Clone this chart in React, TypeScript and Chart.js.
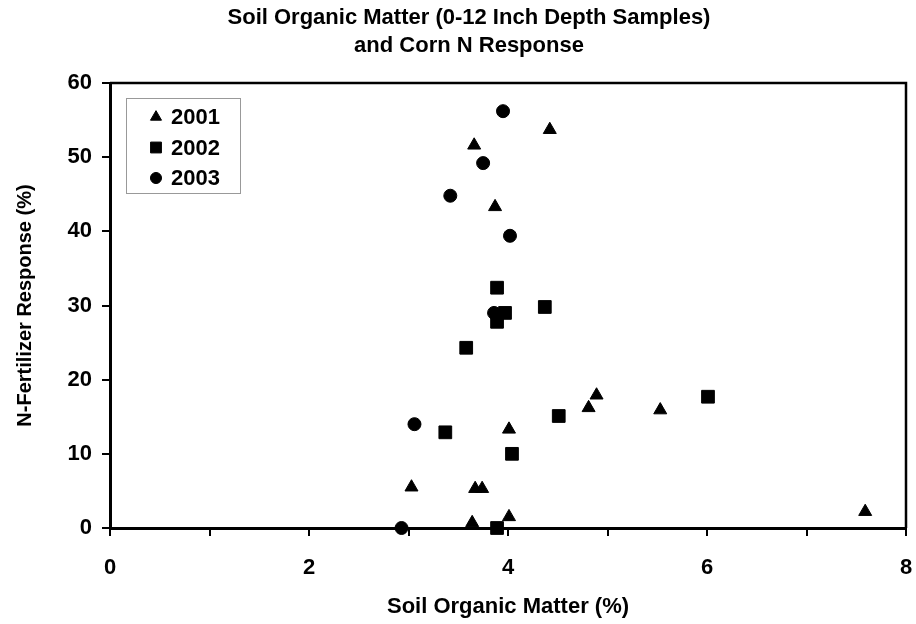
import React, { useEffect, useRef } from "react";
import { Chart, registerables } from "chart.js";
import { drawPoint } from "chart.js/helpers";

Chart.register(...registerables);

const titleLines = ["Soil Organic Matter (0-12 Inch Depth Samples)", "and Corn N Response"];
const xAxisTitle = "Soil Organic Matter (%)";
const yAxisTitle = "N-Fertilizer Response (%)";
const seriesNames = ["2001", "2002", "2003"];

const som2001 = [4.42, 3.66, 3.87, 4.01, 4.89, 4.81, 5.53, 3.03, 3.67, 3.74, 3.64, 4.01, 7.59];
const resp2001 = [53.7, 51.6, 43.3, 13.3, 17.9, 16.2, 15.9, 5.5, 5.3, 5.3, 0.7, 1.5, 2.2];

const som2002 = [3.89, 4.37, 3.97, 3.89, 3.58, 3.37, 4.04, 4.51, 6.01, 3.89];
const resp2002 = [32.4, 29.8, 29.0, 27.8, 24.3, 12.9, 10.0, 15.1, 17.7, 0];

const som2003 = [3.95, 3.75, 3.42, 4.02, 3.86, 3.06, 2.93];
const resp2003 = [56.2, 49.2, 44.8, 39.4, 29.0, 14.0, 0];

const xMin = 0;
const xMax = 8;
const xStep = 1;
const xLabelEvery = 2;
const yMin = 0;
const yMax = 60;
const yStep = 10;

const FONT = "'Liberation Sans', Arial, Helvetica, sans-serif";

const toPoints = (xs: number[], ys: number[]) => xs.map((x, i) => ({ x, y: ys[i] }));

const frameAndDecor = {
  id: "frameAndDecor",
  afterDraw(chart: any) {
    const { ctx, chartArea } = chart;
    ctx.save();
    // top and right frame lines
    ctx.strokeStyle = "#000";
    ctx.lineWidth = 2.5;
    ctx.beginPath();
    ctx.moveTo(chartArea.left, chartArea.top);
    ctx.lineTo(chartArea.right, chartArea.top);
    ctx.lineTo(chartArea.right, chartArea.bottom);
    ctx.stroke();

    // title
    ctx.fillStyle = "#000";
    ctx.font = `bold 22px ${FONT}`;
    ctx.textAlign = "center";
    ctx.textBaseline = "middle";
    ctx.fillText(titleLines[0], 469, 18);
    ctx.fillText(titleLines[1], 469, 46);

    // legend
    const lx = chartArea.left + 16;
    const ly = chartArea.top + 15;
    ctx.strokeStyle = "#999";
    ctx.lineWidth = 1;
    ctx.strokeRect(lx + 0.5, ly + 0.5, 114, 95);
    ctx.font = `bold 22px ${FONT}`;
    ctx.textAlign = "left";
    chart.data.datasets.forEach((ds: any, i: number) => {
      const cy = ly + 19 + i * 30.5;
      ctx.fillStyle = "#000";
      ctx.strokeStyle = "#000";
      ctx.lineWidth = 1;
      drawPoint(ctx, { pointStyle: ds.pointStyle, radius: ds.pointRadius * 0.85, rotation: 0, borderWidth: 1 }, lx + 30, cy);
      ctx.fillStyle = "#000";
      ctx.fillText(ds.label, lx + 45, cy + 1);
    });
    ctx.restore();
  },
};

export default function App() {
  const canvasRef = useRef<HTMLCanvasElement | null>(null);

  useEffect(() => {
    document.body.style.margin = "0";
    const canvas = canvasRef.current;
    if (!canvas) return;
    const common = {
      backgroundColor: "#000",
      borderColor: "#000",
      borderWidth: 1,
      showLine: false,
      clip: false as any,
    };
    const chart = new Chart(canvas, {
      type: "scatter",
      data: {
        datasets: [
          { ...common, label: seriesNames[0], data: toPoints(som2001, resp2001), pointStyle: "triangle", pointRadius: 7.5 },
          { ...common, label: seriesNames[1], data: toPoints(som2002, resp2002), pointStyle: "rect", pointRadius: 9 },
          { ...common, label: seriesNames[2], data: toPoints(som2003, resp2003), pointStyle: "circle", pointRadius: 6.5 },
        ],
      },
      options: {
        animation: false,
        responsive: false,
        layout: { padding: { top: 83, right: 5, left: 0, bottom: 0 } },
        plugins: {
          legend: { display: false },
          title: { display: false },
          tooltip: { enabled: false },
        },
        scales: {
          x: {
            type: "linear",
            min: xMin,
            max: xMax,
            afterFit: (s: any) => { s.height = 96; s.paddingRight = 0; s.paddingLeft = 0; },
            ticks: {
              stepSize: xStep,
              color: "#000",
              font: { family: FONT, size: 22, weight: "bold" },
              padding: 19,
              maxRotation: 0,
              callback: (v: any) => (Number(v) % xLabelEvery === 0 ? String(v) : ""),
            },
            grid: { drawOnChartArea: false, drawTicks: true, tickLength: 8, color: "#000", lineWidth: 2 },
            border: { display: true, color: "#000", width: 3 },
            title: {
              display: true,
              text: xAxisTitle,
              color: "#000",
              font: { family: FONT, size: 22, weight: "bold" },
              padding: { top: 0, bottom: 4 },
            },
          },
          y: {
            type: "linear",
            min: yMin,
            max: yMax,
            afterFit: (s: any) => { s.width = 110; },
            ticks: {
              stepSize: yStep,
              color: "#000",
              font: { family: FONT, size: 22, weight: "bold" },
              padding: 10,
            },
            grid: { drawOnChartArea: false, drawTicks: true, tickLength: 8, color: "#000", lineWidth: 2 },
            border: { display: true, color: "#000", width: 3 },
            title: {
              display: true,
              text: yAxisTitle,
              color: "#000",
              font: { family: FONT, size: 20, weight: "bold" },
              padding: { top: 13, bottom: 0 },
            },
          },
        },
      },
      plugins: [frameAndDecor],
    });
    return () => chart.destroy();
  }, []);

  return (
    <div style={{ width: 916, height: 624 }}>
      <canvas ref={canvasRef} width={916} height={624} />
    </div>
  );
}
